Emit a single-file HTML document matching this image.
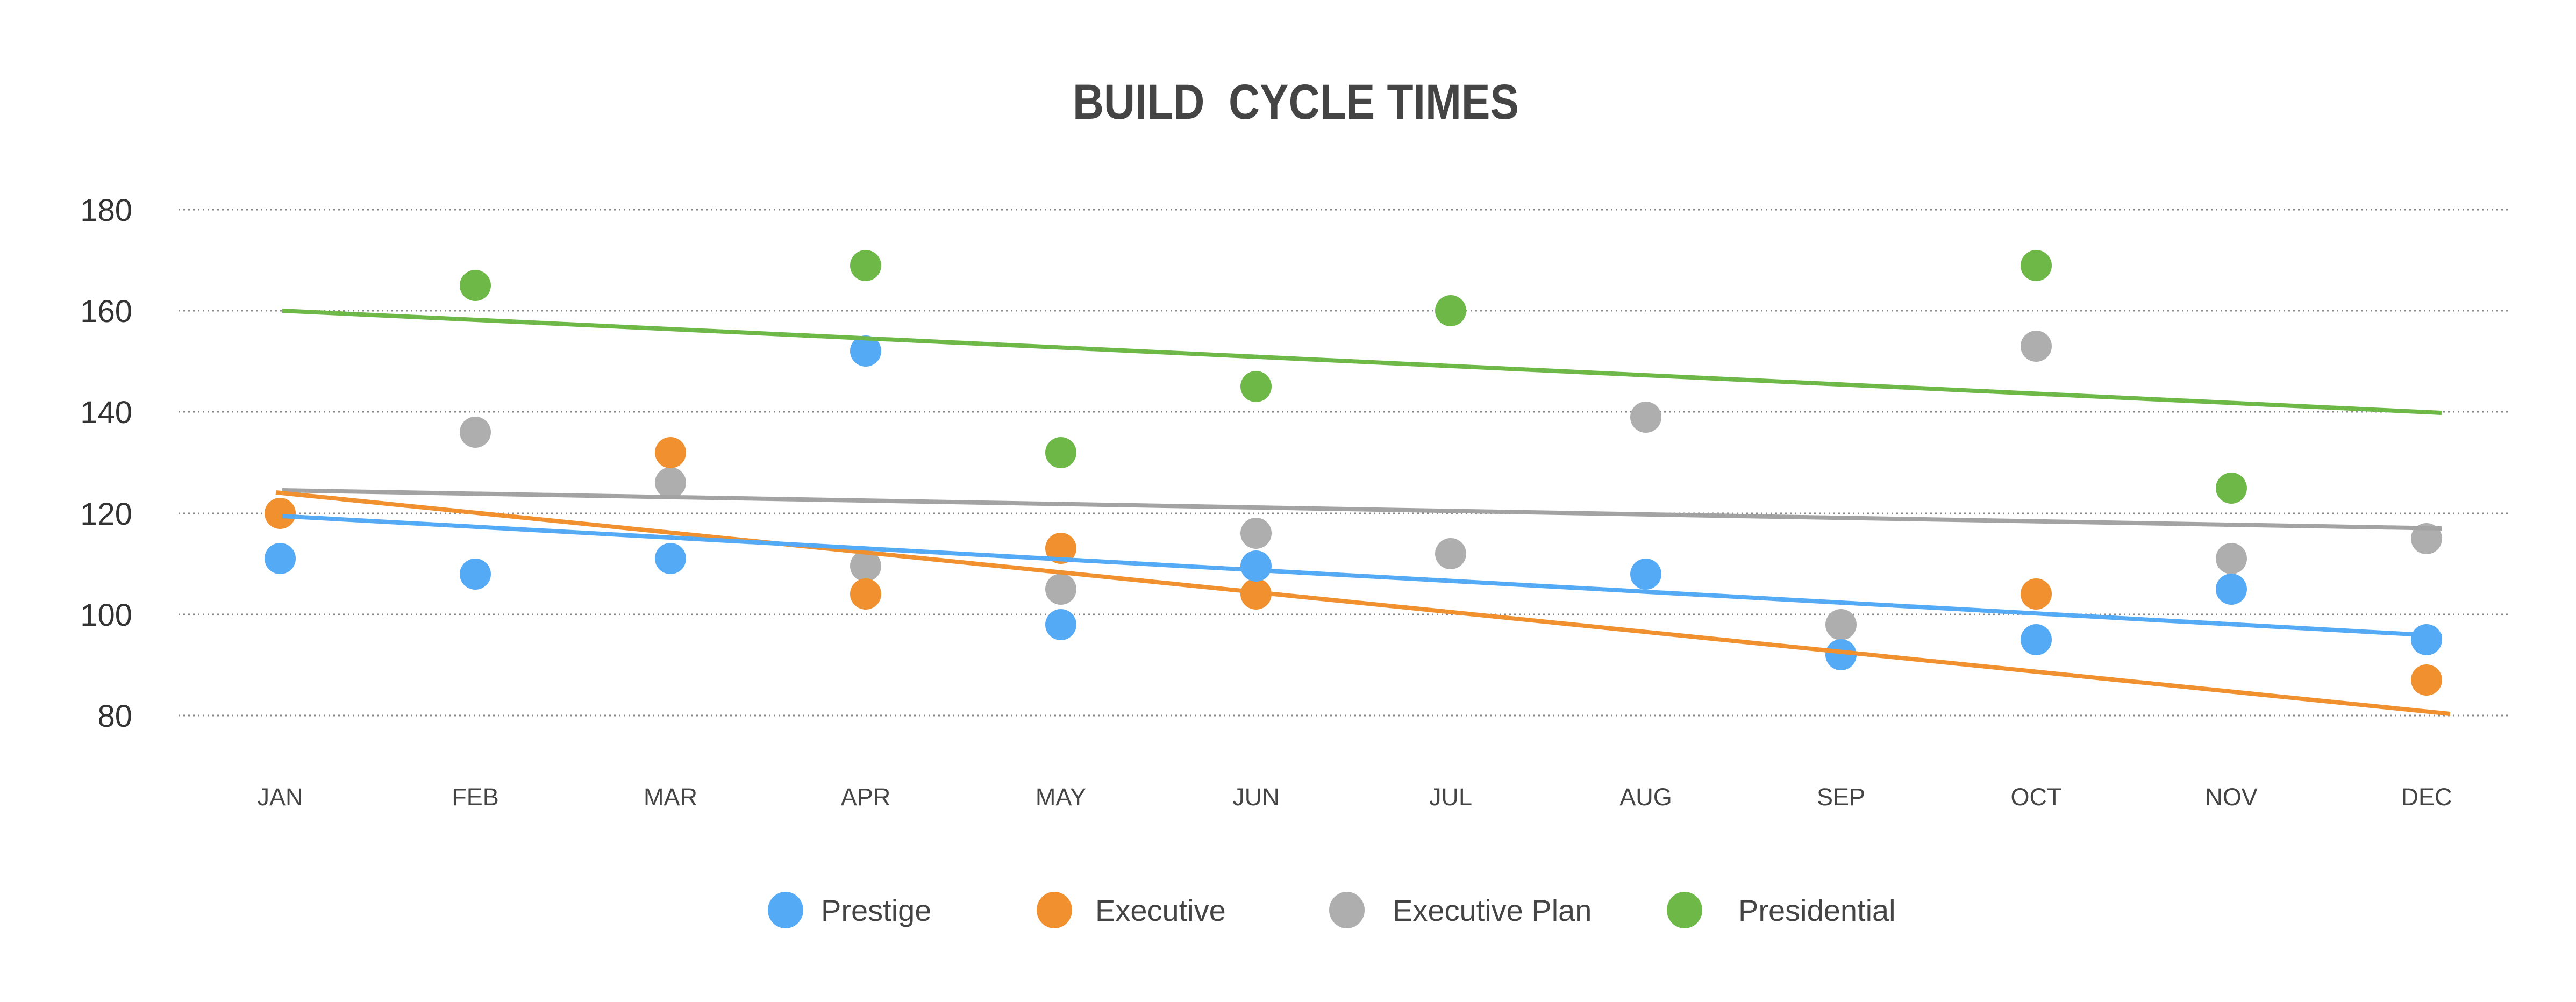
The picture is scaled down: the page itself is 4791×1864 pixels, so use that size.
<!DOCTYPE html>
<html><head><meta charset="utf-8"><style>
html,body{margin:0;padding:0;background:#fff;}
svg{display:block;}
text{font-family:"Liberation Sans",sans-serif;}
</style></head><body>
<svg width="4791" height="1864" viewBox="0 0 4791 1864" xmlns="http://www.w3.org/2000/svg">
<rect width="4791" height="1864" fill="#fff"/>
<text x="2410" y="221" text-anchor="middle" font-size="92" font-weight="bold" fill="#444" textLength="830" lengthAdjust="spacingAndGlyphs">BUILD&#160; CYCLE TIMES</text>
<g stroke="#888" stroke-width="3" stroke-dasharray="3 6">
<line x1="332" y1="390" x2="4666" y2="390"/>
<line x1="332" y1="578" x2="4666" y2="578"/>
<line x1="332" y1="766" x2="4666" y2="766"/>
<line x1="332" y1="955" x2="4666" y2="955"/>
<line x1="332" y1="1143" x2="4666" y2="1143"/>
<line x1="332" y1="1331" x2="4666" y2="1331"/>
</g>
<g font-size="58" fill="#333" text-anchor="end">
<text x="246" y="411">180</text>
<text x="246" y="599">160</text>
<text x="246" y="787">140</text>
<text x="246" y="976">120</text>
<text x="246" y="1164">100</text>
<text x="246" y="1352">80</text>
</g>
<g font-size="45" fill="#444" text-anchor="middle">
<text x="521" y="1498">JAN</text><text x="884" y="1498">FEB</text><text x="1247" y="1498">MAR</text>
<text x="1610" y="1498">APR</text><text x="1973" y="1498">MAY</text><text x="2336" y="1498">JUN</text>
<text x="2698" y="1498">JUL</text><text x="3061" y="1498">AUG</text><text x="3424" y="1498">SEP</text>
<text x="3787" y="1498">OCT</text><text x="4150" y="1498">NOV</text><text x="4513" y="1498">DEC</text>
</g>
<g fill="#6db847">
<circle cx="884" cy="531" r="29"/><circle cx="1610" cy="494" r="29"/><circle cx="1973" cy="842" r="29"/>
<circle cx="2336" cy="719" r="29"/><circle cx="2698" cy="578" r="29"/><circle cx="3787" cy="494" r="29"/>
<circle cx="4150" cy="908" r="29"/>
</g>
<g fill="#aeaeae">
<circle cx="884" cy="804" r="29"/><circle cx="1247" cy="898" r="29"/><circle cx="1610" cy="1053" r="29"/>
<circle cx="1973" cy="1096" r="29"/><circle cx="2336" cy="992" r="29"/><circle cx="2698" cy="1030" r="29"/>
<circle cx="3061" cy="776" r="29"/><circle cx="3424" cy="1162" r="29"/><circle cx="3787" cy="644" r="29"/>
<circle cx="4150" cy="1039" r="29"/><circle cx="4513" cy="1002" r="29"/>
</g>
<g fill="#f0902e">
<circle cx="521" cy="955" r="29"/><circle cx="1247" cy="842" r="29"/><circle cx="1610" cy="1105" r="29"/>
<circle cx="1973" cy="1020" r="29"/><circle cx="2336" cy="1105" r="29"/><circle cx="3787" cy="1105" r="29"/>
<circle cx="4513" cy="1265" r="29"/>
</g>
<g fill="#55aaf5">
<circle cx="521" cy="1039" r="29"/><circle cx="884" cy="1068" r="29"/><circle cx="1247" cy="1039" r="29"/>
<circle cx="1610" cy="653" r="29"/><circle cx="1973" cy="1162" r="29"/><circle cx="2336" cy="1053" r="29"/>
<circle cx="3061" cy="1068" r="29"/><circle cx="3424" cy="1218" r="29"/><circle cx="3787" cy="1190" r="29"/>
<circle cx="4150" cy="1096" r="29"/><circle cx="4513" cy="1190" r="29"/>
</g>
<g stroke-width="8" fill="none">
<line x1="525" y1="578" x2="4541" y2="768" stroke="#6db847"/>
<line x1="525" y1="912" x2="4541" y2="983" stroke="#a3a3a3"/>
<line x1="513" y1="916" x2="4557" y2="1328" stroke="#f0902e"/>
<line x1="525" y1="960" x2="4541" y2="1183" stroke="#55aaf5"/>
</g>
<g font-size="56" fill="#444">
<ellipse cx="1461" cy="1693" rx="33" ry="34" fill="#55aaf5"/><text x="1527" y="1713">Prestige</text>
<ellipse cx="1961" cy="1693" rx="33" ry="34" fill="#f0902e"/><text x="2037" y="1713">Executive</text>
<ellipse cx="2505" cy="1693" rx="33" ry="34" fill="#aeaeae"/><text x="2590" y="1713">Executive Plan</text>
<ellipse cx="3133" cy="1693" rx="33" ry="34" fill="#6db847"/><text x="3233" y="1713">Presidential</text>
</g>
</svg>
</body></html>
